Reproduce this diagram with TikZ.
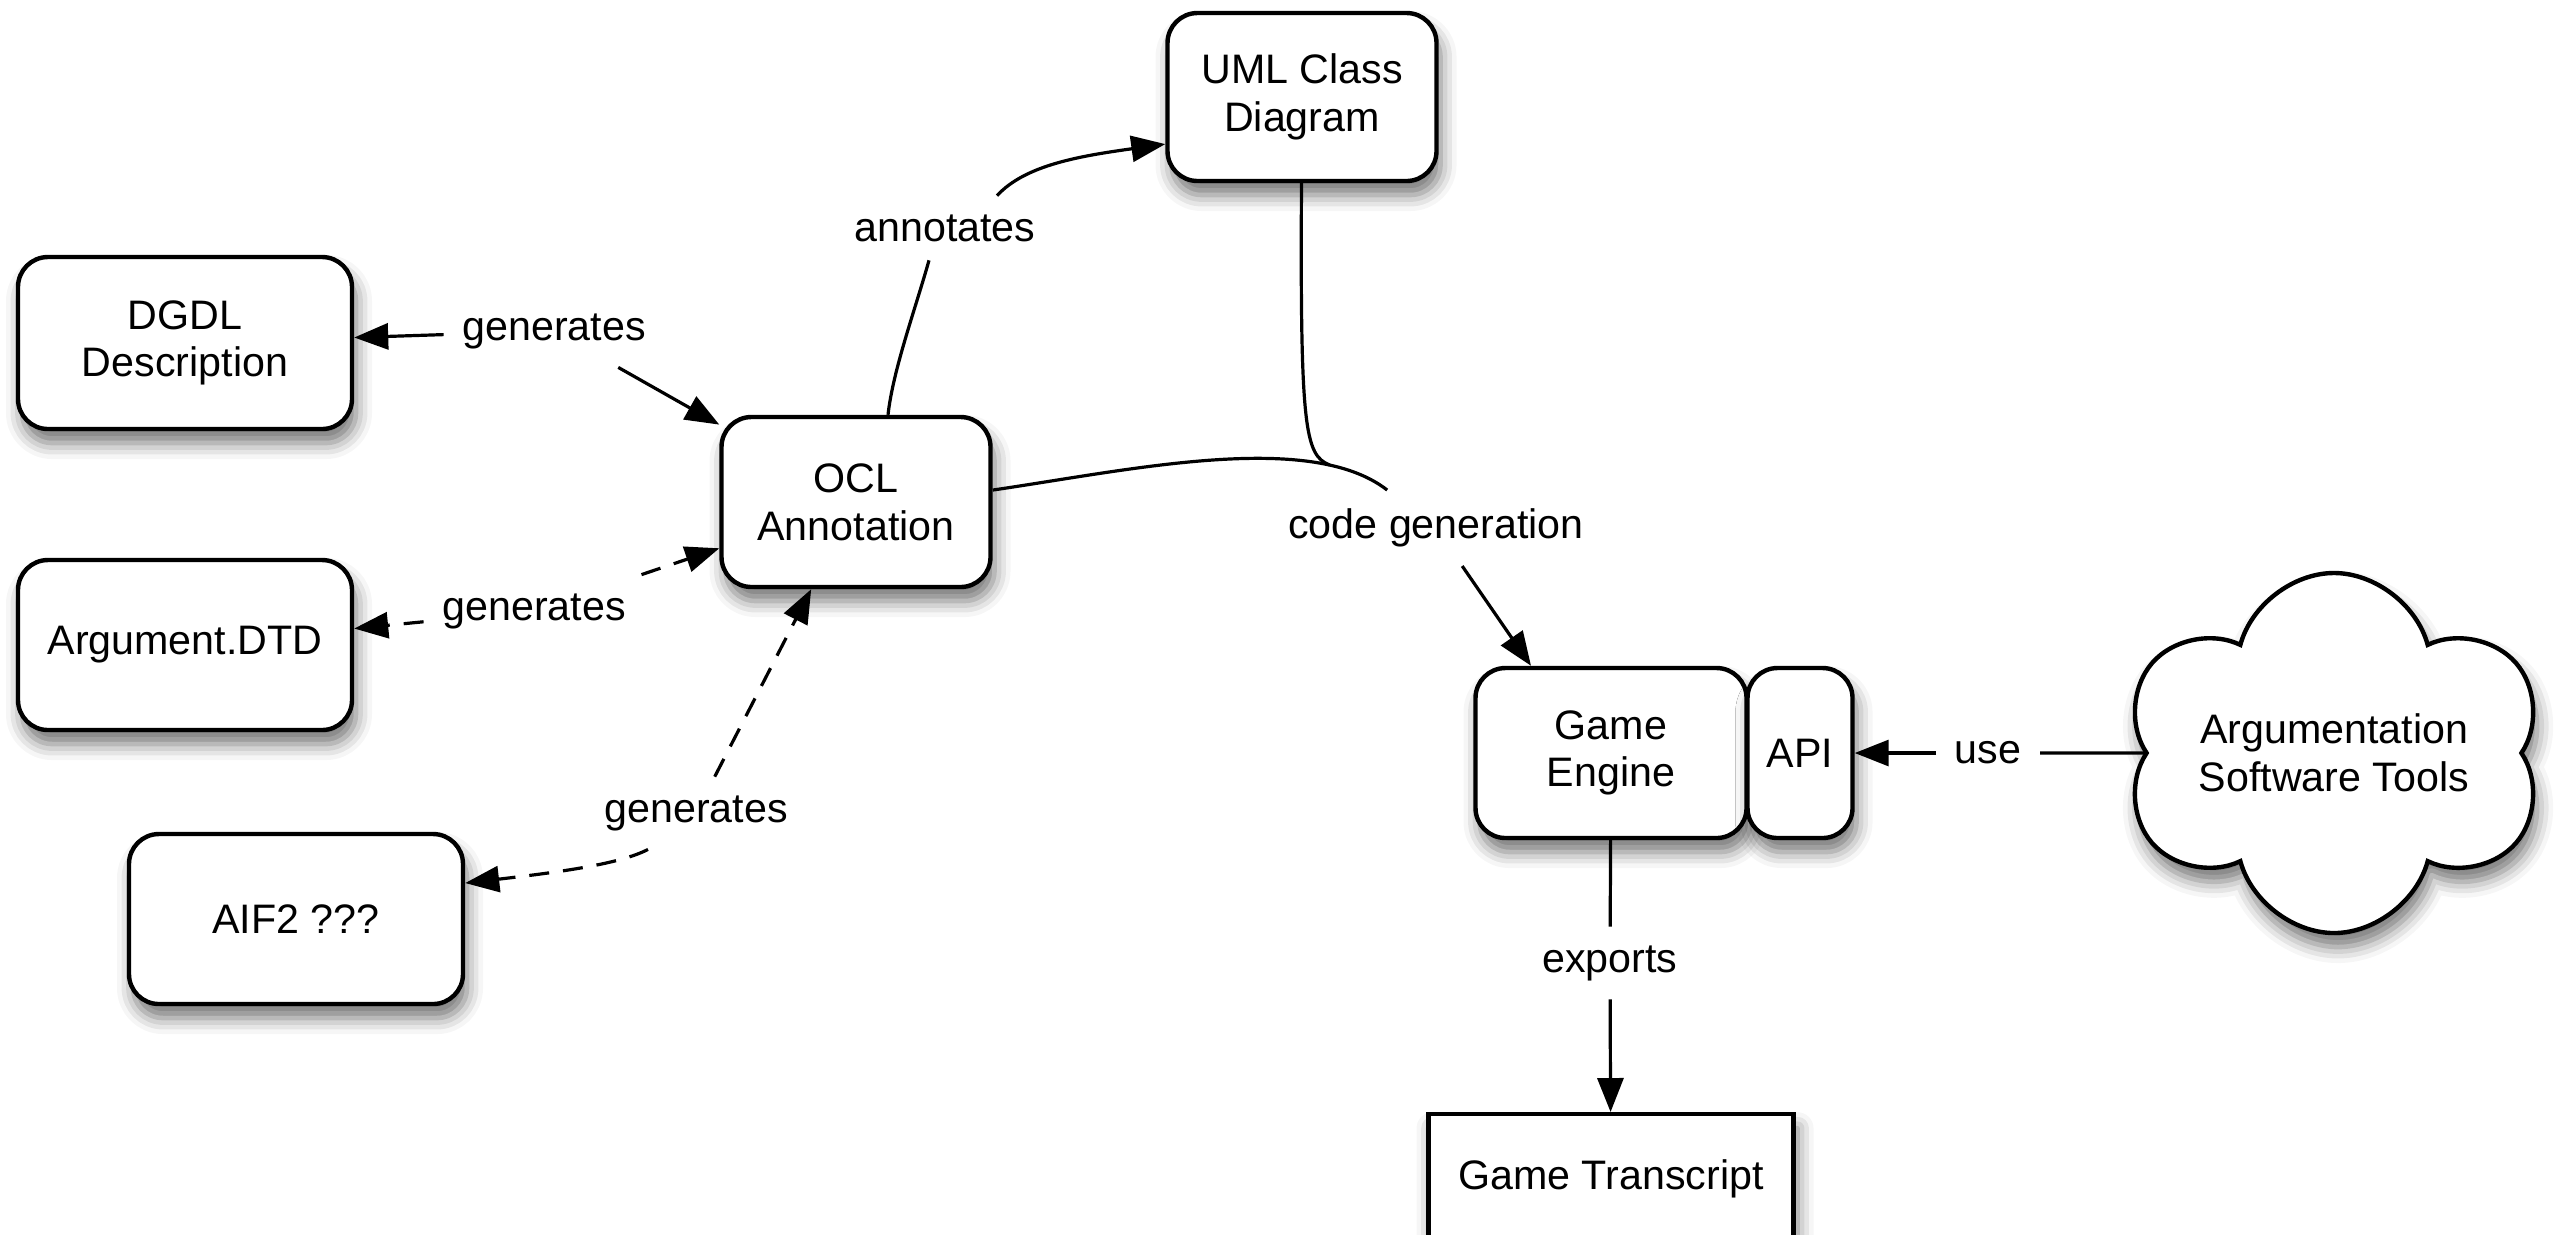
\documentclass[tikz,border=0pt]{standalone}
\usepackage{fontspec}
\setmainfont{Liberation Sans}
\usetikzlibrary{arrows.meta,shapes.symbols,shadows.blur}

\begin{document}
\begin{tikzpicture}[x=0.25pt,y=-0.25pt,
	font=\fontsize{10.3}{11.9}\selectfont,
	box/.style={draw,line width=1.1pt,fill=white,rounded corners=7.5pt,align=center,
		blur shadow={shadow xshift=1pt,shadow yshift=-3.5pt,shadow blur radius=4pt,shadow opacity=55}},
	lbl/.style={inner sep=4.5pt},
	conn/.style={line width=0.8pt},
	arr/.style={conn,-{Triangle[length=8.5pt,width=6.5pt]}},
	dsh/.style={dash pattern=on 5pt off 3.5pt}]
	\useasboundingbox (0,0) rectangle (2555,1234);
	% boxes
	\node[box,minimum width=83.5pt,minimum height=43pt] (dgdl) at (185,343) {DGDL\\Description};
	\node[box,minimum width=83.5pt,minimum height=42.5pt] (dtd) at (185,645) {Argument.DTD};
	\node[box,minimum width=83.5pt,minimum height=42.5pt] (aif) at (296,919) {AIF2 ???};
	\node[box,minimum width=67.25pt,minimum height=42.5pt] (ocl) at (856,502) {OCL\\Annotation};
	\node[box,minimum width=67.25pt,minimum height=42pt] (uml) at (1302,97) {UML Class\\Diagram};
	\node[box,minimum width=67.75pt,minimum height=42.5pt] (engine) at (1611,753) {Game\\Engine};
	\node[box,minimum width=26.25pt,minimum height=42.5pt] (api) at (1800,753) {API};
	\node[box,rounded corners=0pt,anchor=north,minimum width=91.25pt,inner ysep=0pt,
		text height=18.75pt,text depth=40pt] (transcript) at (1611,1112) {Game Transcript};
	\node[box,rounded corners=0pt,cloud,cloud puffs=6,cloud puff arc=150,shape border rotate=15,
		cloud ignores aspect,minimum width=101pt,minimum height=90pt] (tools) at (2334,753) {Argumentation\\Software Tools};
	% labels
	\node[lbl] (annot) at (945,228) {annotates};
	\node[lbl] (gen1) at (554,331) {generates};
	\node[lbl] (gen2) at (534,611) {generates};
	\node[lbl] (gen3) at (696,813) {generates};
	\node[lbl] (codegen) at (1436,528) {code generation};
	\node[lbl] (use) at (1988,753) {use};
	\node[lbl] (exports) at (1610,963) {exports};
	% connectors
	\draw[arr] (gen1) -- (dgdl);
	\draw[arr] (gen1) -- (ocl);
	\draw[arr,dsh] (gen2) -- (dtd);
	\draw[arr,dsh] (gen2) -- (ocl);
	\draw[arr,dsh] (gen3) -- (ocl);
	\draw[arr,dsh] ([xshift=-12pt]gen3.south) .. controls (620,864) and (560,872) .. (aif.12);
	\draw[conn] ([xshift=8pt]ocl.north) .. controls (893,370) and (915,310) .. ([xshift=-4pt]annot.south);
	\draw[arr] ([xshift=13pt]annot.north) .. controls (1025,165) and (1080,156) .. (uml.199);
	\draw[conn] (ocl.5) .. controls (1130,470) and (1310,430) .. node[pos=0.8,coordinate] (merge) {} (codegen);
	\draw[conn] (uml) .. controls (1300,430) and (1305,455) .. (merge);
	\draw[arr] (codegen) -- ([xshift=-20pt]engine.north);
	\draw[conn] (tools) -- (use);
	\draw[arr] (use) -- (api);
	\draw[conn] (engine) -- (exports);
	\draw[arr] (exports) -- (transcript);
\end{tikzpicture}
\end{document}
